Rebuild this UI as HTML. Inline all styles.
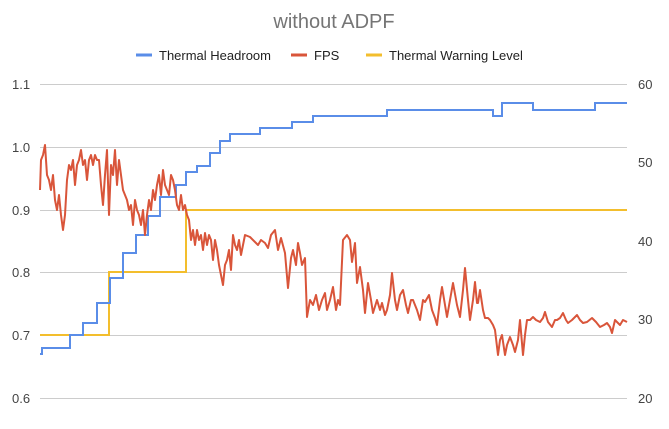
<!DOCTYPE html>
<html><head><meta charset="utf-8"><style>
html,body{margin:0;padding:0;background:#fff}
svg text{font-family:"Liberation Sans",Arial,sans-serif}
</style></head><body>
<svg width="669" height="424" xmlns="http://www.w3.org/2000/svg">
<rect width="669" height="424" fill="#fff"/>
<text x="334" y="28" text-anchor="middle" font-size="20" fill="#757575">without ADPF</text>
<g font-size="13" fill="#222">
<line x1="136" y1="55" x2="152" y2="55" stroke="#5a8de8" stroke-width="3"/>
<text x="159" y="60">Thermal Headroom</text>
<line x1="291" y1="55" x2="307" y2="55" stroke="#d9553a" stroke-width="3"/>
<text x="314" y="60">FPS</text>
<line x1="366" y1="55" x2="382" y2="55" stroke="#f3be2d" stroke-width="3"/>
<text x="389" y="60">Thermal Warning Level</text>
</g>
<g stroke="#ccc" stroke-width="1">
<line x1="40" y1="84.5" x2="627" y2="84.5"/>
<line x1="40" y1="147.5" x2="627" y2="147.5"/>
<line x1="40" y1="210.5" x2="627" y2="210.5"/>
<line x1="40" y1="272.5" x2="627" y2="272.5"/>
<line x1="40" y1="335.5" x2="627" y2="335.5"/>
<line x1="40" y1="398.5" x2="627" y2="398.5"/>
</g>
<g font-size="13" fill="#444">
<text x="12" y="89">1.1</text><text x="12" y="152">1.0</text><text x="12" y="215">0.9</text>
<text x="12" y="277">0.8</text><text x="12" y="340">0.7</text><text x="12" y="403">0.6</text>
<text x="638" y="89">60</text><text x="638" y="167">50</text><text x="638" y="246">40</text>
<text x="638" y="324">30</text><text x="638" y="403">20</text>
</g>
<polyline fill="none" stroke="#f3be2d" stroke-width="2" points="40,335 109,335 109,272 186,272 186,210 627,210"/>
<polyline fill="none" stroke="#5a8de8" stroke-width="2" points="40,354 42,354 42,348 70,348 70,335 83,335 83,323 97,323 97,303 110,303 110,278 123,278 123,253 136,253 136,235 148,235 148,216 160,216 160,197 176,197 176,185 186,185 186,172 197,172 197,166 210,166 210,153 220,153 220,141 230,141 230,134 260,134 260,128 292,128 292,122 313,122 313,116 387,116 387,110 493,110 493,116 502,116 502,103 533,103 533,110 595,110 595,103 627,103"/>
<polyline fill="none" stroke="#d9553a" stroke-width="2" stroke-linejoin="round" points="40,190 41,160 43,155 45,145 47,175 49,180 51,190 53,175 55,200 57,210 59,195 61,215 63,230 65,215 67,180 69,165 71,170 73,160 75,185 77,165 79,160 81,150 83,165 85,160 87,180 89,160 91,155 93,165 95,155 97,160 99,160 101,185 103,205 105,175 107,150 109,215 111,165 113,175 115,150 117,185 119,160 121,175 123,190 125,195 127,200 129,210 131,205 133,225 135,200 137,210 139,215 141,225 143,210 145,235 147,215 149,200 151,210 153,190 155,200 157,185 159,175 161,195 163,170 165,185 167,190 169,195 171,175 173,180 175,190 177,205 179,210 181,195 183,210 185,205 187,215 189,220 191,240 193,230 195,245 197,230 199,240 201,235 203,250 205,233 207,245 209,235 211,240 213,260 215,240 217,250 219,265 221,275 223,285 225,265 227,260 229,250 231,270 233,235 235,245 237,250 239,240 241,255 243,245 245,235 250,237 255,242 258,245 261,240 265,243 268,248 271,235 275,230 278,250 281,238 285,253 288,288 291,258 293,250 296,265 298,243 300,253 302,265 305,258 307,317 310,300 313,305 316,295 319,310 322,300 325,293 327,310 330,300 333,287 336,310 338,300 340,305 343,240 347,235 350,240 352,262 355,243 357,283 360,267 363,290 365,313 368,283 371,300 373,313 377,300 380,310 382,303 385,315 387,310 390,295 392,273 395,300 397,310 400,295 403,290 406,305 408,313 411,300 413,300 417,310 420,320 423,300 425,302 429,295 432,310 435,318 437,325 440,300 442,287 445,305 447,317 450,300 453,283 457,305 460,317 463,290 465,268 468,300 470,320 473,300 475,282 477,303 478,303 480,290 483,310 485,318 488,318 490,320 493,325 495,330 498,355 500,340 502,335 505,355 507,345 510,337 513,345 515,352 518,340 520,320 523,355 525,335 527,320 530,320 533,317 536,320 540,322 543,318 545,312 548,322 552,327 555,320 557,320 560,318 563,313 566,320 568,323 572,320 577,315 580,320 583,323 587,322 592,318 596,322 600,327 604,325 607,323 610,327 612,333 615,320 618,323 620,325 623,320 627,322"/>
</svg>
</body></html>
